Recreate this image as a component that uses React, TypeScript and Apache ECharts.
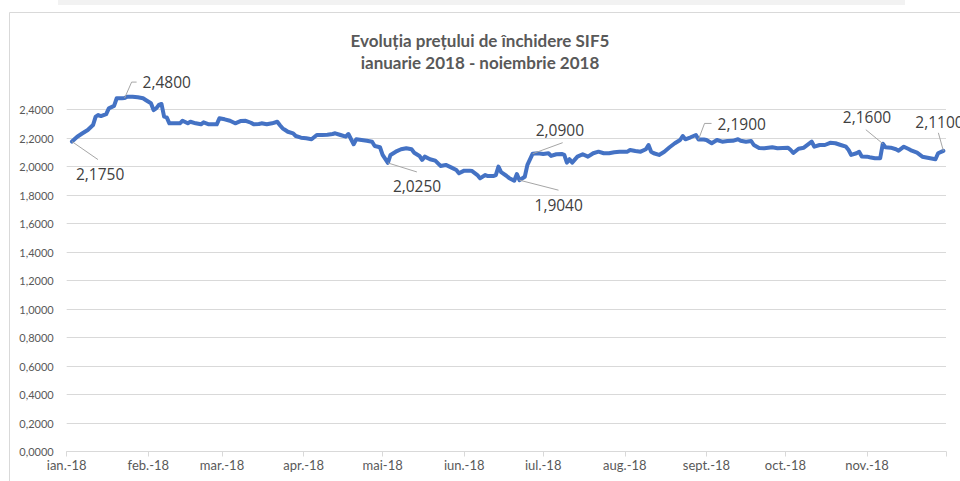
import React, { useEffect, useRef } from "react";
import * as echarts from "echarts";

const titleText = "Evoluția prețului de închidere SIF5\nianuarie 2018 - noiembrie 2018";

const monthLabels = ["ian.-18", "feb.-18", "mar.-18", "apr.-18", "mai-18", "iun.-18", "iul.-18", "aug.-18", "sept.-18", "oct.-18", "nov.-18"];

const yTicks = { min: 0, max: 2.4, interval: 0.2 };

const tradeDates = [
  "2018-01-03", "2018-01-05", "2018-01-07", "2018-01-09", "2018-01-11", "2018-01-12", "2018-01-13", "2018-01-14", "2018-01-16", "2018-01-17",
  "2018-01-19", "2018-01-20", "2018-01-22", "2018-01-23", "2018-01-24", "2018-01-26", "2018-01-28", "2018-01-30", "2018-01-31",
  "2018-02-02", "2018-02-03", "2018-02-04", "2018-02-05", "2018-02-06", "2018-02-07", "2018-02-08", "2018-02-09", "2018-02-11", "2018-02-13",
  "2018-02-14", "2018-02-16", "2018-02-17", "2018-02-19", "2018-02-21", "2018-02-22", "2018-02-24", "2018-02-27", "2018-02-28",
  "2018-03-02", "2018-03-04", "2018-03-06", "2018-03-08", "2018-03-10", "2018-03-12", "2018-03-13", "2018-03-15", "2018-03-16", "2018-03-18",
  "2018-03-20", "2018-03-22", "2018-03-23", "2018-03-24", "2018-03-25", "2018-03-26", "2018-03-28", "2018-03-29", "2018-03-31",
  "2018-04-02", "2018-04-04", "2018-04-06", "2018-04-08", "2018-04-10", "2018-04-12", "2018-04-13", "2018-04-15", "2018-04-17", "2018-04-18",
  "2018-04-20", "2018-04-21", "2018-04-23", "2018-04-25", "2018-04-27", "2018-04-28", "2018-04-30",
  "2018-05-01", "2018-05-03", "2018-05-04", "2018-05-06", "2018-05-08", "2018-05-10", "2018-05-12", "2018-05-13", "2018-05-15", "2018-05-16",
  "2018-05-17", "2018-05-19", "2018-05-21", "2018-05-23", "2018-05-25", "2018-05-27", "2018-05-29", "2018-05-30",
  "2018-06-01", "2018-06-03", "2018-06-04", "2018-06-06", "2018-06-07", "2018-06-09", "2018-06-10", "2018-06-12", "2018-06-13", "2018-06-14",
  "2018-06-15", "2018-06-17", "2018-06-18", "2018-06-20", "2018-06-21", "2018-06-22", "2018-06-24", "2018-06-25", "2018-06-27", "2018-06-29",
  "2018-07-01", "2018-07-03", "2018-07-04", "2018-07-06", "2018-07-08", "2018-07-09", "2018-07-10", "2018-07-11", "2018-07-12", "2018-07-14",
  "2018-07-16", "2018-07-18", "2018-07-20", "2018-07-22", "2018-07-24", "2018-07-26", "2018-07-28", "2018-07-30",
  "2018-08-02", "2018-08-03", "2018-08-05", "2018-08-07", "2018-08-09", "2018-08-10", "2018-08-11", "2018-08-12", "2018-08-14", "2018-08-16",
  "2018-08-18", "2018-08-20", "2018-08-22", "2018-08-23", "2018-08-24", "2018-08-26", "2018-08-28", "2018-08-29", "2018-08-31",
  "2018-09-01", "2018-09-03", "2018-09-05", "2018-09-07", "2018-09-09", "2018-09-11", "2018-09-13", "2018-09-14", "2018-09-16", "2018-09-18",
  "2018-09-19", "2018-09-21", "2018-09-23", "2018-09-26", "2018-09-28",
  "2018-10-02", "2018-10-03", "2018-10-04", "2018-10-06", "2018-10-08", "2018-10-11", "2018-10-12", "2018-10-14", "2018-10-16", "2018-10-18",
  "2018-10-20", "2018-10-22", "2018-10-24", "2018-10-25", "2018-10-26", "2018-10-28", "2018-10-29", "2018-10-30",
  "2018-11-01", "2018-11-02", "2018-11-04", "2018-11-06", "2018-11-07", "2018-11-08", "2018-11-10", "2018-11-12", "2018-11-13", "2018-11-15",
  "2018-11-17", "2018-11-18", "2018-11-20", "2018-11-22", "2018-11-25", "2018-11-27", "2018-11-28", "2018-11-30",
];

const closePrices = [
  2.175, 2.209, 2.233, 2.256, 2.291, 2.35, 2.361, 2.354, 2.368, 2.408,
  2.425, 2.479, 2.479, 2.48, 2.49, 2.49, 2.486, 2.479, 2.467,
  2.444, 2.396, 2.408, 2.432, 2.439, 2.35, 2.345, 2.303, 2.303, 2.303,
  2.321, 2.303, 2.314, 2.303, 2.296, 2.31, 2.296, 2.296, 2.338,
  2.331, 2.321, 2.303, 2.319, 2.321, 2.307, 2.296, 2.298, 2.303, 2.296,
  2.303, 2.314, 2.29, 2.268, 2.256, 2.244, 2.233, 2.214, 2.202,
  2.198, 2.191, 2.221, 2.221, 2.223, 2.228, 2.233, 2.221, 2.209, 2.228,
  2.156, 2.191, 2.186, 2.181, 2.174, 2.144, 2.135,
  2.081, 2.025, 2.081, 2.104, 2.121, 2.128, 2.121, 2.097, 2.074, 2.046,
  2.069, 2.051, 2.041, 2.004, 2.011, 1.994, 1.975, 1.952,
  1.971, 1.971, 1.968, 1.94, 1.917, 1.94, 1.933, 1.933, 1.94, 1.999,
  1.96, 1.935, 1.92, 1.9, 1.947, 1.904, 1.928, 2.011, 2.09, 2.093,
  2.088, 2.093, 2.074, 2.086, 2.088, 2.081, 2.027, 2.051, 2.027, 2.069,
  2.086, 2.069, 2.093, 2.104, 2.093, 2.093, 2.1, 2.104,
  2.104, 2.116, 2.109, 2.104, 2.121, 2.151, 2.104, 2.093, 2.081, 2.104,
  2.135, 2.163, 2.186, 2.214, 2.191, 2.205, 2.221, 2.19, 2.19,
  2.186, 2.163, 2.186, 2.174, 2.179, 2.18, 2.191, 2.181, 2.174, 2.179,
  2.151, 2.13, 2.128, 2.135, 2.128,
  2.132, 2.116, 2.095, 2.125, 2.132, 2.174, 2.139, 2.151, 2.151, 2.166,
  2.163, 2.151, 2.139, 2.116, 2.081, 2.093, 2.103, 2.071,
  2.069, 2.065, 2.058, 2.058, 2.16, 2.135, 2.132, 2.121, 2.111, 2.139,
  2.121, 2.111, 2.097, 2.069, 2.058, 2.051, 2.093, 2.11,
];

const labelledDates = ["2018-01-03", "2018-01-23", "2018-05-03", "2018-06-22", "2018-06-27", "2018-08-29", "2018-11-07", "2018-11-30"];

// leader-line and text placement relative to each labelled point (styling)
const labelPlacement = [
  { line: [[0, 0], [26, 18]], text: [4, 32] },
  { line: [[0, 0], [7, -16], [12, -16]], text: [18, -16] },
  { line: [[0, 0], [29, 9]], text: [5, 23] },
  { line: [[0, 0], [39, 10]], text: [15, 25] },
  { line: [[0, 0], [30, -11]], text: [3, -24] },
  { line: [[0, 0], [6, -16], [13, -16]], text: [19, -15] },
  { line: [[0, 0], [-17, -14]], text: [-40, -27] },
  { line: [[0, 0], [-5, -18]], text: [-28, -29] },
];

function ts(s: string): number {
  const [y, m, d] = s.split("-").map(Number);
  return Date.UTC(y, m - 1, d);
}

const fmt = (v: number) => v.toFixed(4).replace(".", ",");

export default function App() {
  const ref = useRef<HTMLDivElement>(null);
  useEffect(() => {
    if (!ref.current) return;
    const chart = echarts.init(ref.current, null, { renderer: "svg" });
    const monthStarts: number[] = [];
    for (let m = 0; m <= 11; m++) monthStarts.push(Date.UTC(2018, m, 1));
    const labelStarts = monthStarts.slice(0, 11);
    const data = tradeDates.map((d, i) => [ts(d), closePrices[i]]);

    chart.setOption({
      animation: false,
      backgroundColor: "#ffffff",
      title: {
        text: titleText,
        left: "center",
        top: 29,
        padding: 0,
        textStyle: { fontFamily: "Lato", fontWeight: "bold", fontSize: 17, lineHeight: 22, color: "#595959" },
      },
      grid: { left: 66.7, right: 14, top: 109.5, bottom: 29.5, containLabel: false, outerBoundsMode: "none" },
      xAxis: {
        type: "value",
        min: monthStarts[0],
        max: monthStarts[11],
        axisLine: { show: true, lineStyle: { color: "#D9D9D9", width: 1 } },
        axisTick: { show: true, customValues: monthStarts, length: 5, lineStyle: { color: "#D9D9D9" } },
        axisLabel: {
          customValues: labelStarts,
          formatter: (v: number) => monthLabels[new Date(v).getUTCMonth()],
          color: "#595959",
          fontFamily: "Lato",
          fontSize: 13,
          margin: 7,
        },
        splitLine: { show: false },
      },
      yAxis: {
        type: "value",
        min: yTicks.min,
        max: yTicks.max,
        interval: yTicks.interval,
        axisLine: { show: false },
        axisTick: { show: false },
        axisLabel: { formatter: (v: number) => fmt(v), color: "#595959", fontFamily: "Lato", fontSize: 11, margin: 13 },
        splitLine: { show: true, lineStyle: { color: "#D9D9D9", width: 1 } },
      },
      series: [
        {
          type: "line",
          data,
          showSymbol: false,
          symbol: "none",
          clip: false,
          silent: true,
          lineStyle: { color: "#4472C4", width: 4, join: "round", cap: "round" },
          z: 3,
        },
      ],
    });

    const graphics: any[] = [
      { type: "rect", shape: { x: 58, y: 0, width: 847, height: 5 }, style: { fill: "#F2F2F2" }, silent: true },
      { type: "rect", shape: { x: 9.5, y: 12.5, width: 1200, height: 1000 }, style: { fill: "none", stroke: "#D9D9D9", lineWidth: 1 }, silent: true },
    ];
    labelledDates.forEach((d, k) => {
      const idx = tradeDates.indexOf(d);
      if (idx < 0) return;
      const val = closePrices[idx];
      const p = chart.convertToPixel({ xAxisIndex: 0, yAxisIndex: 0 }, [ts(d), val]) as number[];
      const pl = labelPlacement[k];
      graphics.push({
        type: "polyline",
        shape: { points: pl.line.map(([dx, dy]) => [p[0] + dx, p[1] + dy]) },
        style: { stroke: "#A6A6A6", lineWidth: 1, fill: null },
        silent: true,
        z: 10,
      });
      graphics.push({
        type: "text",
        x: p[0] + pl.text[0],
        y: p[1] + pl.text[1],
        style: { text: fmt(val), fill: "#404040", fontFamily: "Open Sans", fontSize: 15.5, align: "left", verticalAlign: "middle" },
        silent: true,
        z: 10,
      });
    });
    chart.setOption({ graphic: graphics });

    return () => chart.dispose();
  }, []);
  return <div ref={ref} style={{ position: "absolute", left: 0, top: 0, width: 960, height: 481 }} />;
}
